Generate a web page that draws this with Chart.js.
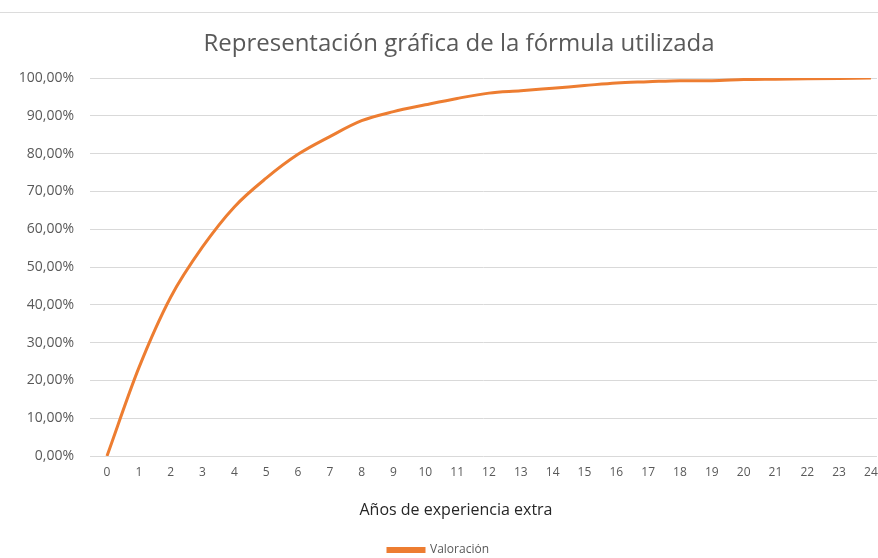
<!DOCTYPE html>
<html>
<head>
<meta charset="utf-8">
<script src="https://cdn.jsdelivr.net/npm/chart.js@4/dist/chart.umd.min.js"></script>
<style>
  html, body { margin: 0; padding: 0; background: #fff; }
  #wrap { position: relative; width: 878px; height: 558px; }
  #sheet-line { position: absolute; left: 0; right: 0; top: 12px; border-top: 1px solid #dcdcdc; }
  canvas { position: absolute; left: 0; top: 0; }
</style>
</head>
<body>
<div id="wrap">
  <div id="sheet-line"></div>
  <canvas id="chart" width="878" height="558"></canvas>
</div>
<script>
// ── DATA ─────────────────────────────────────────────────────
const years = [0, 1, 2, 3, 4, 5, 6, 7, 8, 9, 10, 11, 12, 13, 14, 15, 16, 17, 18, 19, 20, 21, 22, 23, 24];
const valoracion = [0, 23.3, 42.0, 55.3, 65.9, 73.5, 79.8, 84.5, 88.7, 91.1, 92.9, 94.6, 96.0, 96.6, 97.3,
                    98.0, 98.7, 99.0, 99.3, 99.3, 99.6, 99.7, 99.8, 99.9, 100];
const yTicks = [0, 10, 20, 30, 40, 50, 60, 70, 80, 90, 100];

const chartTitle = 'Representación gráfica de la fórmula utilizada';
const xTitle = 'Años de experiencia extra';
const FONT = '"Open Sans", Lato, sans-serif';

// draws the chart title and x axis title where Excel put them
const captions = {
  id: 'captions',
  afterDraw(chart) {
    const c = chart.ctx;
    c.save();
    c.textAlign = 'center';
    c.textBaseline = 'middle';
    c.fillStyle = '#595959';
    c.font = '24px ' + FONT;
    c.fillText(chartTitle, 459, 44);
    c.fillStyle = '#262626';
    c.font = '16px ' + FONT;
    c.fillText(xTitle, 456, 510);
    c.restore();
  }
};

new Chart(document.getElementById('chart'), {
  type: 'line',
  data: {
    datasets: [{
      label: 'Valoración',
      data: years.map((x, i) => ({ x, y: valoracion[i] })),
      borderColor: '#ed7d31',
      backgroundColor: '#ed7d31',
      borderWidth: 3,
      pointRadius: 0,
      cubicInterpolationMode: 'monotone',
      fill: false,
    }],
  },
  options: {
    responsive: false,
    animation: false,
    layout: { padding: { top: 78, right: 1, left: 0, bottom: -8 } },
    plugins: {
      title: { display: false },
      tooltip: { enabled: false },
      legend: {
        display: true,
        position: 'bottom',
        labels: {
          color: '#595959',
          font: { family: FONT, size: 12 },
          boxWidth: 36,
          boxHeight: 3,
          padding: 0,
        },
      },
    },
    scales: {
      x: {
        type: 'linear',
        min: -0.534,
        max: 24.19,
        grid: { display: false, drawTicks: false },
        border: { display: false },
        afterBuildTicks: (s) => { s.ticks = years.map(v => ({ value: v })); },
        afterFit: (s) => { s.height = 88; s.paddingLeft = 0; s.paddingRight = 0; },
        ticks: {
          color: '#595959',
          font: { family: FONT, size: 12 },
          padding: 9,
          maxRotation: 0,
          autoSkip: false,
        },
      },
      y: {
        min: 0,
        max: 100,
        grid: { color: '#d9d9d9', drawTicks: false },
        border: { display: false },
        afterBuildTicks: (s) => { s.ticks = yTicks.map(v => ({ value: v })); },
        afterFit: (s) => { s.width = 90; },
        ticks: {
          color: '#595959',
          font: { family: FONT, size: 14 },
          padding: 16,
          callback: (v) => v.toFixed(2).replace('.', ',') + '%',
        },
      },
    },
  },
  plugins: [captions],
});
</script>
</body>
</html>
